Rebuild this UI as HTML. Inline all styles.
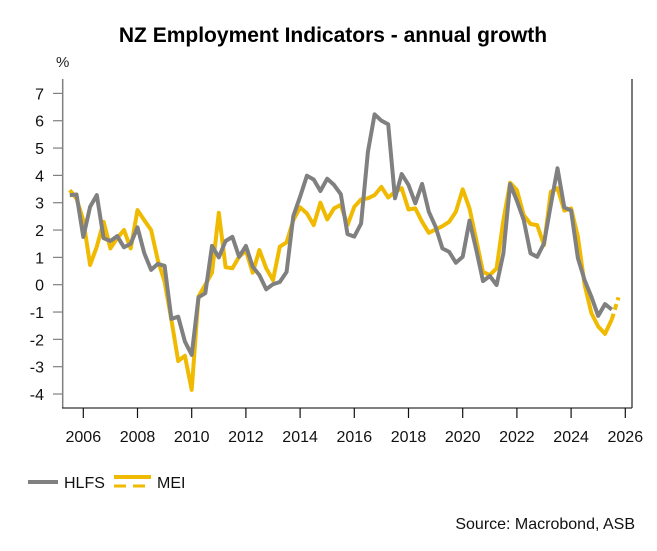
<!DOCTYPE html>
<html><head><meta charset="utf-8"><style>
body{margin:0;background:#fff;}
svg text{font-family:"Liberation Sans",sans-serif;}
</style></head><body>
<svg width="657" height="546" viewBox="0 0 657 546">
<text x="333" y="42" text-anchor="middle" font-size="21" font-weight="bold" fill="#000">NZ Employment Indicators - annual growth</text>
<text x="56" y="67" font-size="15" fill="#222">%</text>
<g id="axes"></g>
<g id="series"></g>
<g>
<line x1="28" y1="482" x2="58" y2="482" stroke="#808080" stroke-width="4"/>
<text x="64" y="488" font-size="16" fill="#111">HLFS</text>
<rect x="114" y="475" width="37" height="4" fill="#F0BA00"/>
<line x1="114" y1="486" x2="151" y2="486" stroke="#F0BA00" stroke-width="3" stroke-dasharray="12,7"/>
<text x="157" y="488" font-size="16" fill="#111">MEI</text>
</g>
<text x="635" y="529" text-anchor="end" font-size="16" fill="#111">Source: Macrobond, ASB</text>
</svg>
<script>
const startYear = 2005.5;
const step = 0.25;
const hlfs = [3.28,3.3,1.75,2.85,3.28,1.7,1.6,1.78,1.37,1.5,2.1,1.15,0.54,0.76,0.69,-1.25,-1.17,-2.08,-2.57,-0.46,-0.31,1.42,1.0,1.6,1.75,1.02,1.42,0.66,0.35,-0.17,0.02,0.1,0.47,2.51,3.22,3.99,3.85,3.43,3.88,3.65,3.31,
1.85,1.76,2.24,4.86,6.23,6.0,5.87,3.16,4.05,3.65,2.98,3.69,2.67,2.12,1.33,1.2,0.8,1.02,2.34,1.27,0.13,0.32,-0.01,1.15,3.68,3.07,2.37,1.15,1.02,1.51,2.92,4.26,2.83,2.71,0.97,0.17,-0.44,-1.14,-0.71,-0.91];
const mei = [3.46,3.15,2.36,0.72,1.39,2.3,1.33,1.7,2.0,1.33,2.73,2.36,2.0,0.9,0.11,-1.29,-2.79,-2.6,-3.85,-0.43,0.0,0.44,2.63,0.64,0.6,1.02,1.25,0.44,1.27,0.6,0.17,1.39,1.55,2.36,2.83,2.61,2.18,3.0,2.39,2.79,2.92,
2.18,2.85,3.12,3.16,3.28,3.58,3.19,3.4,3.53,2.75,2.79,2.3,1.9,2.02,2.14,2.3,2.67,3.49,2.79,1.63,0.47,0.35,0.6,2.36,3.73,3.46,2.55,2.22,2.18,1.45,3.4,3.53,2.71,2.79,1.75,0.0,-1.04,-1.53,-1.8,-1.27,-0.46];
const yTicks = [7,6,5,4,3,2,1,0,-1,-2,-3,-4];
const xTicks = [2006,2008,2010,2012,2014,2016,2018,2020,2022,2024,2026];

const NS = "http://www.w3.org/2000/svg";
function xS(yr){ return 83.3 + (yr-2006)*27.1; }
function yS(v){ return 284.7 - v*27.33; }
function mk(tag, attrs, parent){ const e=document.createElementNS(NS,tag); for(const k in attrs) e.setAttribute(k,attrs[k]); parent.appendChild(e); return e; }

const axes = document.getElementById('axes');
let el = mk('line',{x1:62.7,y1:79,x2:62.7,y2:408,stroke:'#808080','stroke-width':1.5},axes);


el = mk('line',{x1:62,y1:408,x2:632,y2:408,stroke:'#333','stroke-width':1.2},axes);


el = mk('line',{x1:632,y1:79,x2:632,y2:408,stroke:'#222','stroke-width':1.2},axes);


yTicks.forEach(v=>{
  const y=yS(v);
  let t=mk('line',{x1:53,y1:y,x2:63,y2:y,stroke:'#808080','stroke-width':1.2},axes);
  
  
  let l=mk('text',{x:44,y:y+6,'text-anchor':'end','font-size':16,fill:'#111'},axes);
  l.textContent=v;
  
  
});
xTicks.forEach(yr=>{
  const x=xS(yr);
  let t=mk('line',{x1:x,y1:408,x2:x,y2:418,stroke:'#111','stroke-width':1.2},axes);
  
  
  let l=mk('text',{x:x,y:442,'text-anchor':'middle','font-size':16,fill:'#111'},axes);
  l.textContent=yr;
  
  
});

const g = document.getElementById('series');
function pts(arr, a, b){ const r=[]; for(let i=a;i<=b;i++) r.push(xS(startYear+i*step).toFixed(1)+','+yS(arr[i]).toFixed(1)); return r.join(' '); }
let p = mk('polyline',{points:pts(mei,0,mei.length-2),fill:'none',stroke:'#F0BA00','stroke-width':4,'stroke-linejoin':'round'},g);


p = mk('polyline',{points:pts(mei,mei.length-2,mei.length-1),fill:'none',stroke:'#F0BA00','stroke-width':4,'stroke-dasharray':'6,4'},g);


p = mk('polyline',{points:pts(hlfs,0,hlfs.length-1),fill:'none',stroke:'#808080','stroke-width':4,'stroke-linejoin':'round'},g);


</script>
</body></html>
